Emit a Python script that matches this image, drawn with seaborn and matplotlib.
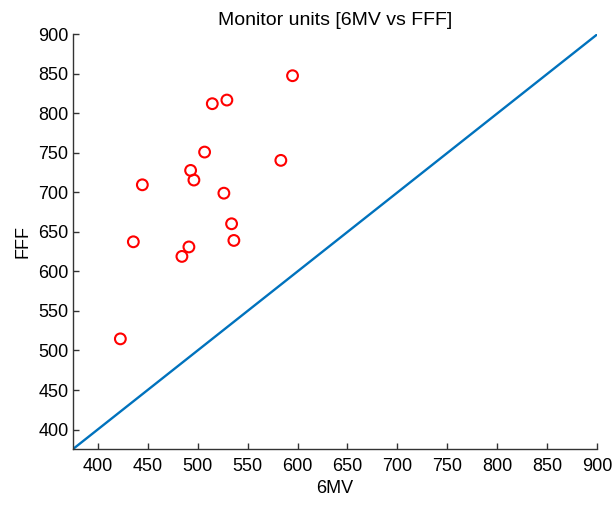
import numpy as np
import pandas as pd
import seaborn as sns
import matplotlib.pyplot as plt

# Monitor units per plan, 6MV (x) vs FFF (y)
mu_6mv = [422.7, 435.7, 444.7, 484.3, 491.3, 493.0, 496.3, 507.0,
          514.7, 529.3, 526.3, 534.0, 536.3, 583.3, 595.0]
mu_fff = [514.7, 637.5, 709.6, 619.0, 631.0, 727.8, 715.6, 751.0,
          812.2, 816.8, 699.0, 660.3, 639.2, 740.5, 847.6]

# identity line
ident = [375, 900]
ticks = list(range(400, 901, 50))

sns.set_style("ticks")
plt.rcParams['font.family'] = ['Liberation Sans', 'DejaVu Sans']
plt.rcParams['text.color'] = 'black'
plt.rcParams['axes.labelcolor'] = 'black'

df = pd.DataFrame({"6MV": mu_6mv, "FFF": mu_fff})

fig = plt.figure(figsize=(6.14, 5.05), dpi=100)
ax = fig.add_axes([0.1184, 0.1103, 0.9728 - 0.1184, 0.9321 - 0.1103])

sns.lineplot(x=ident, y=ident, ax=ax, color="#0072BD", linewidth=1.7)
sns.scatterplot(data=df, x="6MV", y="FFF", ax=ax, marker="o", s=60,
                facecolor="none", edgecolor="#FF0000", linewidth=1.5, zorder=3)

ax.set_xlim(375, 900)
ax.set_ylim(375, 900)
ax.set_xticks(ticks)
ax.set_yticks(ticks)
ax.tick_params(direction="in", length=4, width=1, labelsize=13,
               colors="#333333", labelcolor="black")
ax.xaxis.set_tick_params(pad=6)
ax.yaxis.set_tick_params(pad=3)
for s in ["top", "right"]:
    ax.spines[s].set_visible(False)
for s in ["left", "bottom"]:
    ax.spines[s].set_color("#333333")
    ax.spines[s].set_linewidth(1)

ax.set_xlabel("6MV", fontsize=13, labelpad=4)
ax.set_ylabel("FFF", fontsize=13, labelpad=5)
ax.set_title("Monitor units [6MV vs FFF]", fontsize=14, pad=7)

fig.savefig("out.png", dpi=100)
